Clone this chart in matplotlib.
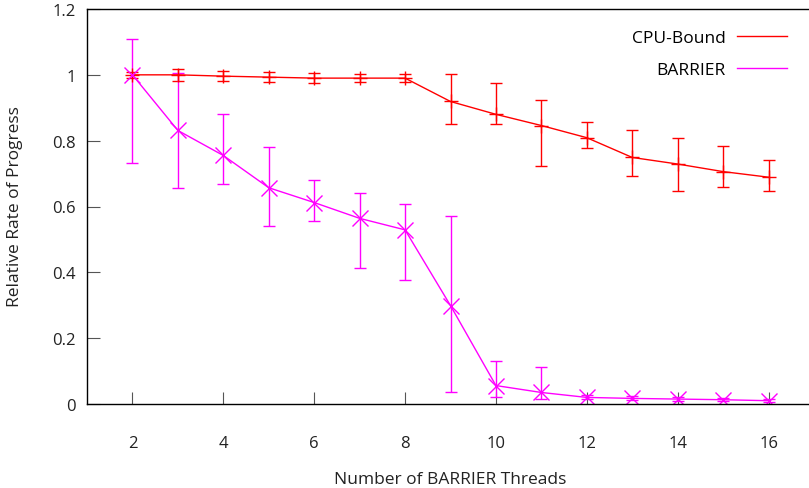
import matplotlib
matplotlib.use("Agg")
import matplotlib.pyplot as plt
from matplotlib.lines import Line2D
import numpy as np

plt.rcParams['font.family'] = ['Open Sans', 'DejaVu Sans']

threads = [2, 3, 4, 5, 6, 7, 8, 9, 10, 11, 12, 13, 14, 15, 16]

cpu_mean = [1.0, 1.0, 0.996, 0.993, 0.99, 0.99, 0.99, 0.919, 0.880, 0.846, 0.809, 0.749, 0.729, 0.706, 0.689]
cpu_low  = [0.99, 0.982, 0.98, 0.978, 0.976, 0.978, 0.979, 0.852, 0.850, 0.722, 0.778, 0.694, 0.646, 0.660, 0.646]
cpu_high = [1.01, 1.019, 1.013, 1.008, 1.005, 1.004, 1.004, 1.003, 0.976, 0.925, 0.856, 0.833, 0.809, 0.785, 0.741]

bar_mean = [1.0, 0.831, 0.755, 0.657, 0.612, 0.564, 0.529, 0.299, 0.056, 0.035, 0.020, 0.017, 0.015, 0.013, 0.010]
bar_low  = [0.733, 0.657, 0.667, 0.540, 0.555, 0.412, 0.377, 0.037, 0.020, 0.015, 0.014, 0.012, 0.010, 0.008, 0.005]
bar_high = [1.109, 1.005, 0.880, 0.782, 0.679, 0.640, 0.607, 0.570, 0.132, 0.113, 0.026, 0.023, 0.020, 0.018, 0.015]

series_names = ["CPU-Bound", "BARRIER"]
xticks = [2, 4, 6, 8, 10, 12, 14, 16]
yticks = [0, 0.2, 0.4, 0.6, 0.8, 1.0, 1.2]
ytick_labels = ["0", "0.2", "0.4", "0.6", "0.8", "1", "1.2"]

RED = "#ff0000"
MAG = "#ff00ff"
TXT = "#222222"

fig = plt.figure(figsize=(8.09, 4.89), dpi=100)
ax = fig.add_axes([87/809, 1 - 405/489, (814-87)/809, (405-10)/489])

def err(mean, low, high):
    m = np.array(mean); return [m - np.array(low), np.array(high) - m]

ax.errorbar(threads, cpu_mean, yerr=err(cpu_mean, cpu_low, cpu_high), color=RED,
            lw=1, elinewidth=1, capsize=4.5, capthick=1, marker='+', ms=10, mew=1)
ax.errorbar(threads, bar_mean, yerr=err(bar_mean, bar_low, bar_high), color=MAG,
            lw=1, elinewidth=1, capsize=4.5, capthick=1, marker='x', ms=11, mew=1)

ax.set_xlim(1, 17)
ax.set_ylim(0, 1.2)
ax.set_xticks(xticks)
ax.set_xticklabels([str(t) for t in xticks])
ax.set_yticks(yticks)
ax.set_yticklabels(ytick_labels)
ax.tick_params(axis='both', direction='in', length=9, color='#555555', labelsize=12,
               labelcolor=TXT)
ax.tick_params(axis='x', pad=22, top=False)
ax.tick_params(axis='y', pad=8, right=False)
for s in ax.spines.values():
    s.set_linewidth(1)
    s.set_color('black')

fig.text(450/809, 1 - 480/489, "Number of BARRIER Threads", fontsize=12.5, color=TXT,
         ha='center', va='center')
fig.text(15/809, 1 - 207/489, "Relative Rate of Progress", fontsize=12.5, color=TXT,
         ha='center', va='center', rotation=90)

handles = [Line2D([], [], color=RED, lw=1), Line2D([], [], color=MAG, lw=1)]
ax.legend(handles, series_names, loc='upper right', bbox_to_anchor=((794-87)/727, 1 - 14/395),
          frameon=False, markerfirst=False, fontsize=12.5, handlelength=2.9,
          labelspacing=0.9, borderaxespad=0, handletextpad=0.65)

fig.savefig("out.png", dpi=100)
